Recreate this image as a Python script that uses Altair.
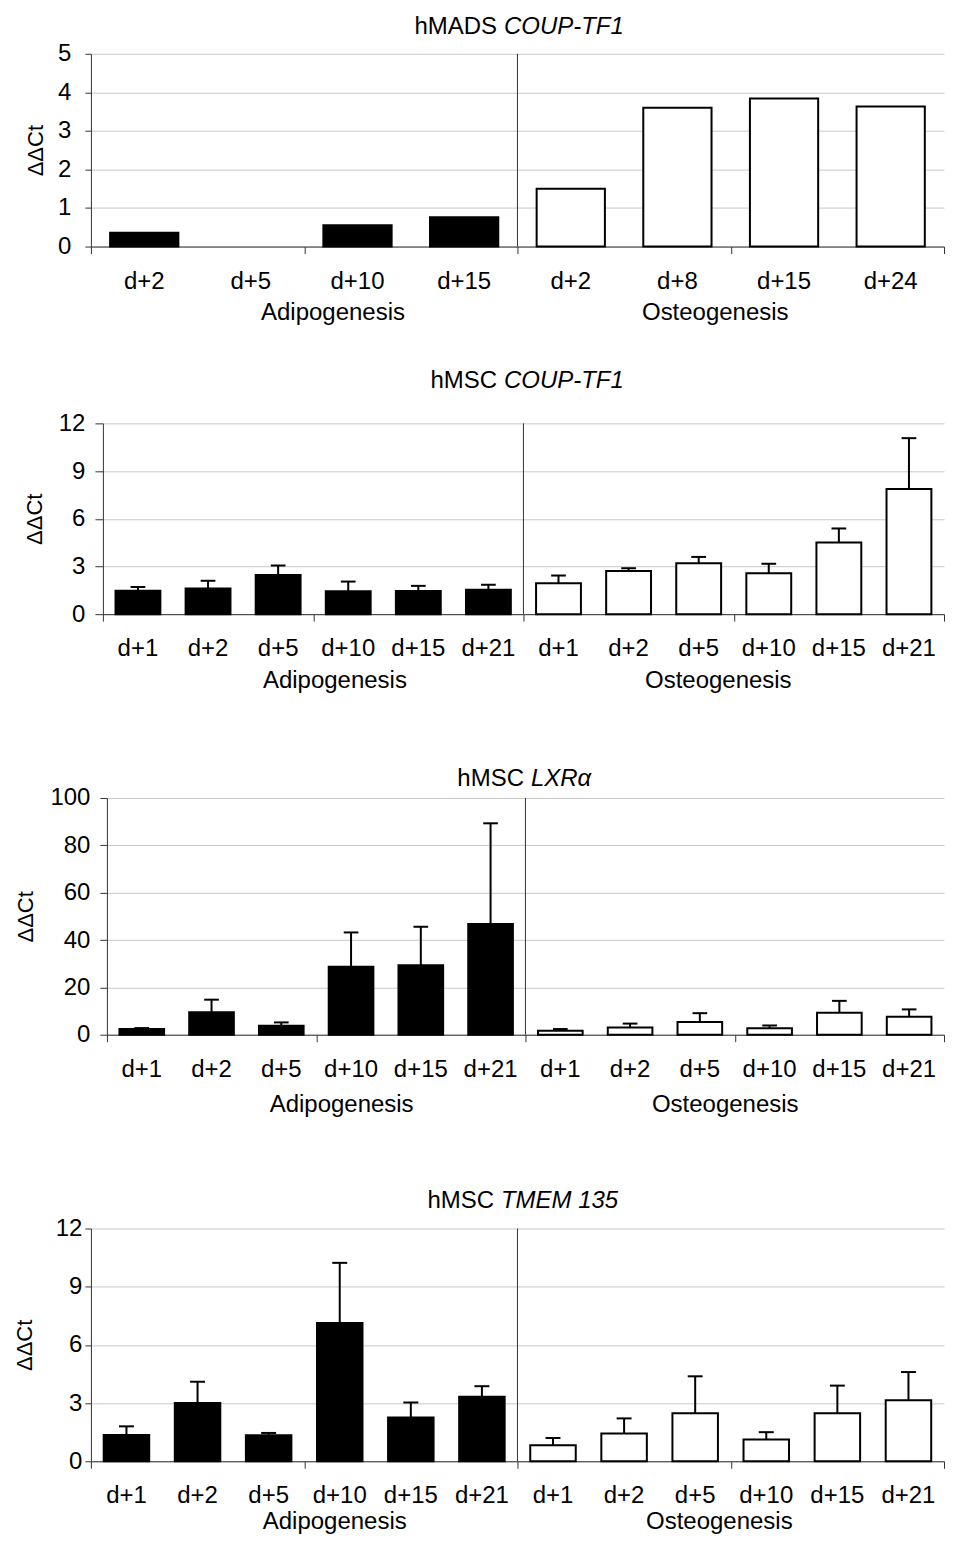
import altair as alt
import pandas as pd

FONT = "Liberation Sans"
GROUPS = ["Adipogenesis", "Osteogenesis"]

# ---- Panel 1: hMADS COUP-TF1 ----
p1_labels = ["d+2", "d+5", "d+10", "d+15", "d+2", "d+8", "d+15", "d+24"]
p1_values = [0.36, 0.0, 0.55, 0.76, 1.50, 3.60, 3.84, 3.63]

# ---- Panel 2: hMSC COUP-TF1 ----
p2_labels = ["d+1", "d+2", "d+5", "d+10", "d+15", "d+21"] * 2
p2_values = [1.47, 1.62, 2.47, 1.44, 1.46, 1.53, 1.95, 2.72, 3.20, 2.58, 4.50, 7.88]
p2_err = [1.71, 2.10, 3.06, 2.05, 1.78, 1.85, 2.43, 2.89, 3.60, 3.17, 5.39, 11.07]

# ---- Panel 3: hMSC LXRa ----
p3_labels = ["d+1", "d+2", "d+5", "d+10", "d+15", "d+21"] * 2
p3_values = [2.4, 9.5, 3.8, 28.7, 29.3, 46.8, 1.7, 3.1, 5.4, 2.7, 9.3, 7.6]
p3_err = [2.8, 14.8, 5.2, 43.2, 45.6, 89.3, 2.4, 4.7, 9.1, 3.9, 14.3, 10.7]

# ---- Panel 4: hMSC TMEM 135 ----
p4_labels = ["d+1", "d+2", "d+5", "d+10", "d+15", "d+21"] * 2
p4_values = [1.35, 3.00, 1.34, 7.13, 2.26, 3.33, 0.83, 1.43, 2.47, 1.12, 2.47, 3.14]
p4_err = [1.80, 4.10, 1.46, 10.23, 3.03, 3.87, 1.20, 2.21, 4.38, 1.50, 3.90, 4.60]


def make_panel(labels, values, errs, title_plain, title_italic, ymax, ystep,
               width, height, left_ext, top_ext, bottom_ext, title_split,
               title_base, label_pad, tick_size, ytitle_x, gshift_a, gshift_o,
               label_base, group_base, spacer_w):
    n = len(labels)
    half = n // 2
    df = pd.DataFrame({
        "idx": list(range(n)),
        "label": labels,
        "value": values,
        "group": [GROUPS[0]] * half + [GROUPS[1]] * half,
    })
    if errs is not None:
        df["err"] = errs

    xs = alt.Scale(domain=[0, n], nice=False, zero=False)
    ys = alt.Scale(domain=[0, ymax], nice=False)
    xaxis = alt.Axis(
        values=list(range(0, n + 1, half // 2)), labels=False, title=None,
        grid=False, domainColor="#333333", tickColor="#333333",
        tickSize=7, domainWidth=1, tickWidth=1)
    yaxis = alt.Axis(
        values=list(range(0, ymax + 1, ystep)), title="ΔΔCt",
        titleFont=FONT, titleFontSize=22, titleFontWeight="normal",
        titleColor="black", titleX=ytitle_x, titleBaseline="alphabetic",
        titleAngle=270, labelFont=FONT, labelFontSize=24,
        labelColor="black", labelPadding=label_pad, tickSize=tick_size,
        tickColor="#333333", domainColor="#333333", gridColor="#c8c8c8",
        grid=True, labelOverlap=False)

    base = alt.Chart(df).transform_calculate(
        x0="datum.idx + 0.18", x1="datum.idx + 0.82", xc="datum.idx + 0.5",
        c0="datum.idx + 0.395", c1="datum.idx + 0.605",
    )

    bars = base.mark_bar(strokeWidth=2).encode(
        x=alt.X("x0:Q", scale=xs, axis=xaxis),
        x2="x1:Q",
        y=alt.Y("value:Q", scale=ys, axis=yaxis),
        y2=alt.datum(0),
        fill=alt.Fill("group:N", scale=alt.Scale(domain=GROUPS, range=["black", "white"]), legend=None),
        stroke=alt.Stroke("group:N", scale=alt.Scale(domain=GROUPS, range=["black", "black"]), legend=None),
        strokeOpacity=alt.condition("datum.value > 0", alt.value(1), alt.value(0)),
    )

    layers = [bars]
    sep_df = pd.DataFrame({"sep": [half]})
    sep = alt.Chart(sep_df).mark_rule(color="#333333", strokeWidth=1).encode(
        x=alt.X("sep:Q", scale=xs, axis=xaxis), y=alt.value(0), y2=alt.value(height))
    layers.append(sep)

    if errs is not None:
        stems = base.mark_rule(color="black", strokeWidth=2).encode(
            x=alt.X("xc:Q", scale=xs, axis=xaxis),
            y=alt.Y("value:Q", scale=ys, axis=yaxis), y2="err:Q")
        caps = base.mark_rule(color="black", strokeWidth=2).encode(
            x=alt.X("c0:Q", scale=xs, axis=xaxis), x2="c1:Q",
            y=alt.Y("err:Q", scale=ys, axis=yaxis))
        layers += [stems, caps]

    xlab = base.mark_text(font=FONT, fontSize=24, baseline="alphabetic",
                          align="center", color="black").encode(
        x=alt.X("xc:Q", scale=xs, axis=xaxis), y=alt.value(height + label_base),
        text="label:N")
    grp = base.transform_aggregate(mx="mean(xc)", groupby=["group"]).transform_calculate(
        gx=f"datum.group == '{GROUPS[0]}' ? datum.mx + ({gshift_a}) : datum.mx + ({gshift_o})"
    ).mark_text(font=FONT, fontSize=24, baseline="alphabetic", align="center",
                color="black").encode(
        x=alt.X("gx:Q", scale=xs, axis=xaxis), y=alt.value(height + group_base),
        text="group:N")

    tdf = pd.DataFrame({"plain": [title_plain], "ital": [title_italic]})
    t1 = alt.Chart(tdf).mark_text(font=FONT, fontSize=24, align="right",
                                  baseline="alphabetic", color="black").encode(
        x=alt.value(title_split - 3.5), y=alt.value(-title_base), text="plain:N")
    t2 = alt.Chart(tdf).mark_text(font=FONT, fontSize=24, align="left",
                                  baseline="alphabetic", fontStyle="italic",
                                  color="black").encode(
        x=alt.value(title_split + 3.5), y=alt.value(-title_base), text="ital:N")
    hid = alt.Chart(tdf).mark_rule(strokeOpacity=0, color="white").encode(
        x=alt.value(-left_ext), y=alt.value(-top_ext), y2=alt.value(height + bottom_ext))

    layers += [xlab, grp, t1, t2, hid]
    panel = alt.layer(*layers).properties(width=width, height=height)

    spacer = alt.Chart(tdf).mark_rule(strokeOpacity=0, color="white").encode(
        x=alt.value(0), y=alt.value(0), y2=alt.value(1)
    ).properties(width=spacer_w, height=1)
    return alt.hconcat(spacer, panel, spacing=0)


p1 = make_panel(p1_labels, p1_values, None, "hMADS", "COUP-TF1", 5, 1,
                854, 193, 70, 45, 90, 410, 20, 14, 6, -48, 0.27, -0.145, 42, 74, 13)
p2 = make_panel(p2_labels, p2_values, p2_err, "hMSC", "COUP-TF1", 12, 3,
                842, 191, 83, 87, 90, 398, 35, 10, 8, -61, 0.31, -0.22, 42, 74, 12)
p3 = make_panel(p3_labels, p3_values, p3_err, "hMSC", "LXRα", 100, 20,
                838, 237, 96, 94, 90, 421, 12, 10, 7, -74, 0.365, -0.136, 42, 77, 3)
p4 = make_panel(p4_labels, p4_values, p4_err, "hMSC", "TMEM 135", 12, 3,
                854, 233, 81, 104, 70, 407, 21, 3, 6, -59, 0.43, -0.16, 42, 68, 2)

chart = alt.vconcat(p1, p2, p3, p4, spacing=0).properties(
    padding=0, background="white"
).configure_view(stroke=None)

chart.save("out.html", embed_options={"renderer": "svg", "actions": False})
